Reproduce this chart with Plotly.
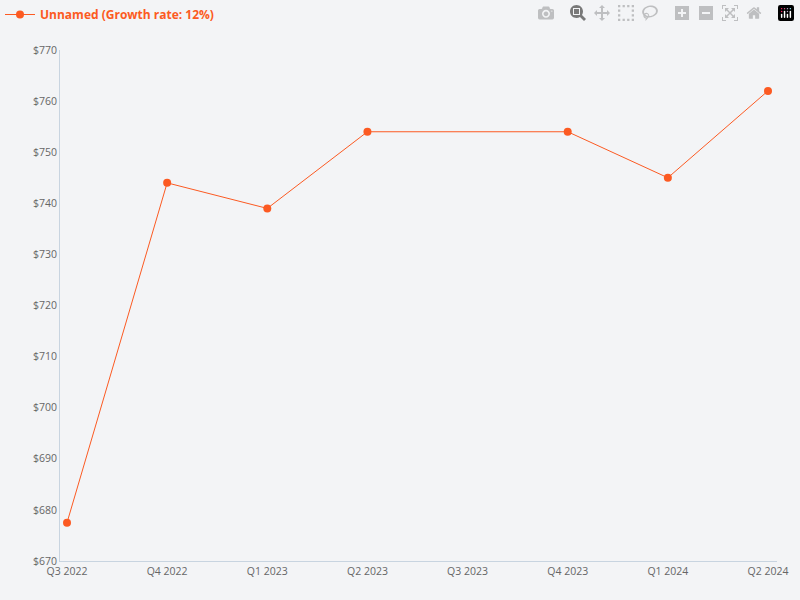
import plotly.graph_objects as go

quarters = ["Q3 2022", "Q4 2022", "Q1 2023", "Q2 2023", "Q3 2023", "Q4 2023", "Q1 2024", "Q2 2024"]
values = [677.5, 744, 739, 754, None, 754, 745, 762]
orange = "#fc5a22"

fig = go.Figure()
fig.add_trace(go.Scatter(x=quarters, y=values, mode="lines+markers", connectgaps=True,
                         name="Unnamed (Growth rate: 12%)",
                         line=dict(color=orange, width=1), marker=dict(color=orange, size=8)))
fig.update_layout(
    width=800, height=600,
    paper_bgcolor="#f3f4f6", plot_bgcolor="#f3f4f6",
    font=dict(family="Open Sans", size=10.5, color="#666"),
    margin=dict(l=60, r=15, t=50, b=39),
    showlegend=True,
    legend=dict(x=0, y=1, xref="container", yref="container", xanchor="left", yanchor="top",
                orientation="h", font=dict(color=orange, size=12, weight="bold"), itemwidth=30),
    xaxis=dict(range=[-0.07, 7.09], showgrid=False, showline=True, linecolor="#c8d4e0", ticks=""),
    yaxis=dict(range=[670, 770], dtick=10, tickprefix="$", showgrid=False, showline=True,
               linecolor="#c8d4e0", zeroline=False),
)
fig.write_html("out.html", post_script="document.body.style.margin='0';document.body.style.background='#f3f4f6';")
